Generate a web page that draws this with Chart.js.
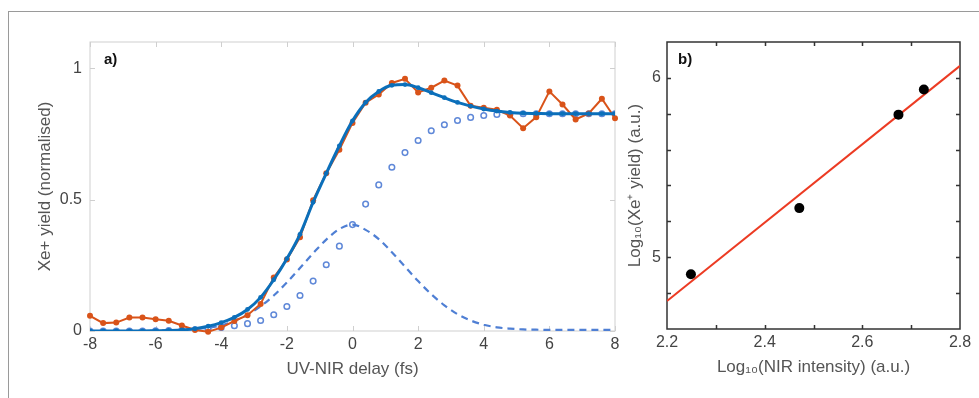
<!DOCTYPE html>
<html>
<head>
<meta charset="utf-8">
<script src="https://cdn.jsdelivr.net/npm/chart.js@4.4.1/dist/chart.umd.min.js"></script>
<style>
  html, body { margin: 0; padding: 0; background: #fff; }
  body { width: 979px; height: 398px; position: relative; overflow: hidden; font-family: "Liberation Sans", Arial, sans-serif; }
  #frame { position: absolute; left: 8px; top: 11px; width: 990px; height: 400px; border-left: 1px solid #9a9a9a; border-top: 1px solid #9a9a9a; }
  .wrap { position: absolute; top: 0; height: 398px; }
  #wrapA { left: 0; width: 640px; }
  #wrapB { left: 620px; width: 359px; }
  .tag { position: absolute; font-weight: bold; font-size: 15px; color: #111; }
</style>
</head>
<body>
<div id="frame"></div>
<div class="wrap" id="wrapA"><canvas id="chartA" width="640" height="398"></canvas></div>
<div class="wrap" id="wrapB"><canvas id="chartB" width="359" height="398"></canvas></div>
<div class="tag" style="left:104px; top:50px;">a)</div>
<div class="tag" style="left:678px; top:50px;">b)</div>

<script>
// panel a) : delay scan
const delay = [-8, -7.6, -7.2, -6.8, -6.4, -6.0, -5.6, -5.2, -4.8, -4.4, -4.0, -3.6, -3.2, -2.8, -2.4, -2.0, -1.6, -1.2, -0.8, -0.4,
    0, 0.4, 0.8, 1.2, 1.6, 2.0, 2.4, 2.8, 3.2, 3.6, 4.0, 4.4, 4.8, 5.2, 5.6, 6.0, 6.4, 6.8, 7.2, 7.6, 8.0];

const measured = [0.058, 0.030, 0.032, 0.051, 0.051, 0.045, 0.039, 0.021, 0.004, -0.003, 0.013, 0.038, 0.060, 0.103, 0.204,
    0.272, 0.357, 0.498, 0.600, 0.690, 0.792, 0.869, 0.900, 0.944, 0.960, 0.908, 0.926, 0.953, 0.934, 0.857, 0.850,
    0.842, 0.820, 0.772, 0.814, 0.912, 0.862, 0.805, 0.828, 0.884, 0.810];

const fitTotal = [0, 0, 0, 0, 0, 0.001, 0.002, 0.004, 0.009, 0.018, 0.032, 0.052, 0.082, 0.128, 0.195,
    0.275, 0.368, 0.490, 0.600, 0.705, 0.800, 0.870, 0.912, 0.935, 0.938, 0.926, 0.907, 0.888, 0.870, 0.856, 0.845,
    0.837, 0.832, 0.829, 0.828, 0.827, 0.827, 0.827, 0.827, 0.827, 0.827];

const fitGauss = [0, 0, 0, 0, 0.001, 0.001, 0.002, 0.004, 0.007, 0.012, 0.021, 0.038, 0.062, 0.094, 0.135,
    0.185, 0.240, 0.296, 0.348, 0.388, 0.405, 0.385, 0.350, 0.300, 0.245, 0.190, 0.140, 0.098, 0.064, 0.040, 0.024,
    0.014, 0.009, 0.006, 0.005, 0.004, 0.004, 0.004, 0.004, 0.004, 0.004];

const fitStep = [0, 0, 0, 0, 0, 0.001, 0.002, 0.003, 0.005, 0.008, 0.013, 0.020, 0.028, 0.040, 0.062,
    0.093, 0.135, 0.190, 0.252, 0.323, 0.405, 0.483, 0.556, 0.623, 0.679, 0.725, 0.762, 0.785, 0.801, 0.813, 0.820,
    0.824, 0.826, 0.827, 0.827, 0.827, 0.827, 0.827, 0.827, 0.827, 0.827];

const delayTicks = [-8, -6, -4, -2, 0, 2, 4, 6, 8];
const yieldTicks = [0, 0.5, 1];

// panel b) : intensity scaling
const logIntensity = [2.249, 2.471, 2.674, 2.726];
const logYield = [4.905, 5.274, 5.795, 5.935];
const lineX = [2.2, 2.8];
const lineY = [4.756, 6.067];

const intensityLabels = [2.2, 2.4, 2.6, 2.8];
const intensityTicks = [2.3, 2.4, 2.5, 2.6, 2.7];
const logYieldLabels = [5, 6];
const logYieldTicks = [4.8, 5.0, 5.2, 5.4, 5.6, 5.8, 6.0];

const pts = (xs, ys) => xs.map((x, i) => ({ x: x, y: ys[i] }));

// box round the plot with inward ticks (matlab style)
const boxTicks = {
    id: 'boxTicks',
    beforeDatasetsDraw(chart, args, opts) {
        const ctx = chart.ctx;
        const a = chart.chartArea;
        const sx = chart.scales.x, sy = chart.scales.y;
        ctx.save();
        ctx.strokeStyle = opts.color;
        ctx.lineWidth = opts.width;
        ctx.strokeRect(a.left, a.top, a.right - a.left, a.bottom - a.top);
        ctx.beginPath();
        opts.xTicks.forEach(v => {
            const p = Math.round(sx.getPixelForValue(v)) + 0.5;
            ctx.moveTo(p, a.bottom); ctx.lineTo(p, a.bottom - opts.len);
            ctx.moveTo(p, a.top); ctx.lineTo(p, a.top + opts.len);
        });
        opts.yTicks.forEach(v => {
            const p = Math.round(sy.getPixelForValue(v)) + 0.5;
            ctx.moveTo(a.left, p); ctx.lineTo(a.left + opts.len, p);
            ctx.moveTo(a.right, p); ctx.lineTo(a.right - opts.len, p);
        });
        ctx.stroke();
        ctx.restore();
    }
};

const tickFont = { family: '"Liberation Sans", Arial, sans-serif', size: 16 };
const titleFont = { family: '"Liberation Sans", Arial, sans-serif', size: 17 };
const noGrid = { display: false, drawTicks: false };

new Chart(document.getElementById('chartA'), {
    type: 'line',
    data: {
        datasets: [
            {
                data: pts(delay, fitTotal),
                borderColor: '#0b6fba',
                backgroundColor: '#0b6fba',
                borderWidth: 3,
                pointRadius: 2.4,
                pointBorderWidth: 0,
                tension: 0.4,
                cubicInterpolationMode: 'monotone'
            },
            {
                data: pts(delay, measured),
                borderColor: '#d95319',
                backgroundColor: '#d95319',
                borderWidth: 2,
                pointRadius: 3,
                pointBorderWidth: 0,
                tension: 0,
                clip: 6
            },
            {
                data: pts(delay, fitGauss),
                borderColor: '#4f7fd4',
                borderWidth: 2.2,
                borderDash: [7, 5],
                pointRadius: 0,
                tension: 0.4,
                cubicInterpolationMode: 'monotone'
            },
            {
                data: pts(delay, fitStep),
                showLine: false,
                borderColor: '#5f88d8',
                backgroundColor: 'rgba(0,0,0,0)',
                pointRadius: 2.8,
                pointBorderWidth: 1.5
            }
        ]
    },
    options: {
        responsive: false,
        animation: false,
        layout: { padding: { left: 0, right: 25, top: 42, bottom: 0 } },
        plugins: {
            legend: { display: false },
            tooltip: { enabled: false },
            boxTicks: { color: '#cfcfcf', width: 1, len: 5, xTicks: delayTicks, yTicks: yieldTicks }
        },
        scales: {
            x: {
                type: 'linear',
                min: -8,
                max: 8,
                grid: noGrid,
                border: { display: false },
                afterBuildTicks: s => { s.ticks = delayTicks.map(v => ({ value: v })); },
                afterFit: s => { s.height = 67; },
                ticks: { color: '#444', font: tickFont, padding: 4, maxRotation: 0, autoSkip: false, callback: v => String(v) },
                title: { display: true, text: 'UV-NIR delay (fs)', color: '#555', font: titleFont, padding: { top: 0, bottom: 18 } }
            },
            y: {
                type: 'linear',
                min: 0,
                max: 1.1,
                grid: noGrid,
                border: { display: false },
                afterBuildTicks: s => { s.ticks = yieldTicks.map(v => ({ value: v })); },
                afterFit: s => { s.width = 90; },
                ticks: { color: '#444', font: tickFont, padding: 8, callback: v => String(v) },
                title: { display: true, text: 'Xe+ yield (normalised)', color: '#555', font: titleFont, padding: { top: 35, bottom: 0 } }
            }
        }
    },
    plugins: [boxTicks]
});

new Chart(document.getElementById('chartB'), {
    type: 'scatter',
    data: {
        datasets: [
            {
                data: pts(logIntensity, logYield),
                backgroundColor: '#000',
                borderColor: '#000',
                pointRadius: 5,
                pointBorderWidth: 0
            },
            {
                data: pts(lineX, lineY),
                showLine: true,
                borderColor: '#ec3b23',
                borderWidth: 2,
                pointRadius: 0
            }
        ]
    },
    options: {
        responsive: false,
        animation: false,
        layout: { padding: { left: 0, right: 19, top: 42, bottom: 0 } },
        plugins: {
            legend: { display: false },
            tooltip: { enabled: false },
            boxTicks: { color: '#333', width: 1.5, len: 4, xTicks: intensityTicks, yTicks: logYieldTicks }
        },
        scales: {
            x: {
                type: 'linear',
                min: 2.2,
                max: 2.8,
                grid: noGrid,
                border: { display: false },
                afterBuildTicks: s => { s.ticks = intensityLabels.map(v => ({ value: v })); },
                afterFit: s => { s.height = 69; },
                ticks: { color: '#444', font: tickFont, padding: 4, maxRotation: 0, autoSkip: false, callback: v => v.toFixed(1) },
                title: { display: true, text: 'Log₁₀(NIR intensity) (a.u.)', color: '#555', font: titleFont, padding: { top: 0, bottom: 20 } }
            },
            y: {
                type: 'linear',
                min: 4.6,
                max: 6.2,
                grid: noGrid,
                border: { display: false },
                afterBuildTicks: s => { s.ticks = logYieldLabels.map(v => ({ value: v })); },
                afterFit: s => { s.width = 47; },
                ticks: { color: '#444', font: tickFont, padding: 6, callback: v => String(v) },
                title: { display: true, text: 'Log₁₀(Xe⁺ yield) (a.u.)', color: '#555', font: titleFont, padding: { top: 5, bottom: 0 } }
            }
        }
    },
    plugins: [boxTicks]
});
</script>
</body>
</html>
